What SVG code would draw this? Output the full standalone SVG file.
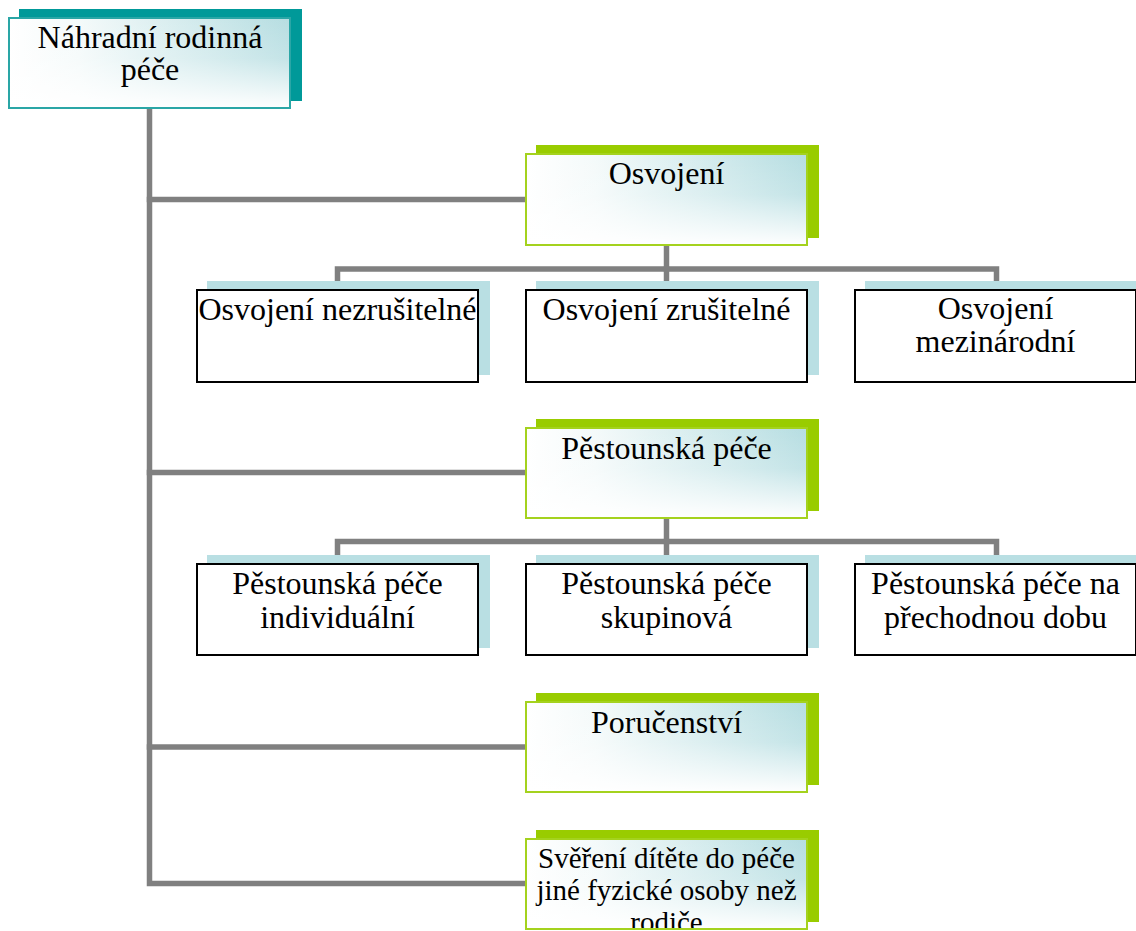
<svg xmlns="http://www.w3.org/2000/svg" width="1136" height="931" viewBox="0 0 1136 931">
<defs>
<linearGradient id="gh" x1="0" y1="0" x2="1" y2="0">
<stop offset="0" stop-color="#ffffff"/>
<stop offset="0.25" stop-color="#f4fafa"/>
<stop offset="1" stop-color="#b5dde1"/>
</linearGradient>
<linearGradient id="gv" x1="0" y1="0" x2="0" y2="1">
<stop offset="0" stop-color="#ffffff" stop-opacity="0"/>
<stop offset="0.45" stop-color="#ffffff" stop-opacity="0.2"/>
<stop offset="1" stop-color="#ffffff" stop-opacity="1"/>
</linearGradient>
<clipPath id="clipLast"><rect x="526" y="839" width="281" height="90"/></clipPath>
</defs>
<style>
.conn{fill:none;stroke:#808080;stroke-width:5.5;stroke-linecap:square;stroke-linejoin:miter}
.shG{fill:#99cc00}
.shT{fill:#009999}
.shB{fill:#b9dfe3}
.grad{fill:url(#gh)}
.fade{fill:url(#gv)}
.bdG{fill:none;stroke:#a4d21e;stroke-width:2}
.bdT{fill:none;stroke:#2aa6a6;stroke-width:2}
.child{fill:#ffffff;stroke:#000000;stroke-width:2}
.t{font-family:"Liberation Serif","Times New Roman",serif;font-size:32px;fill:#000000;text-anchor:middle}
.ts{font-family:"Liberation Serif","Times New Roman",serif;font-size:29px;fill:#000000;text-anchor:middle}
</style>
<rect width="1136" height="931" fill="#ffffff"/>
<g id="connectors">
<path class="conn" d="M149.5,109 V883.5 H525"/>
<path class="conn" d="M149.5,199.5 H525"/>
<path class="conn" d="M149.5,472.5 H525"/>
<path class="conn" d="M149.5,747 H525"/>
<path class="conn" d="M666.5,246 V269"/>
<path class="conn" d="M337.5,283 V269 H996.5 V283"/>
<path class="conn" d="M666.5,269 V283"/>
<path class="conn" d="M666.5,519 V541.5"/>
<path class="conn" d="M337.5,556 V541.5 H996.5 V556"/>
<path class="conn" d="M666.5,541.5 V556"/>
</g>
<g id="node-root">
<rect class="shT" x="19" y="9" width="283" height="92"/>
<rect class="grad" x="8" y="17" width="283" height="92"/>
<rect class="fade" x="8" y="17" width="283" height="92"/>
<rect class="bdT" x="9" y="18" width="281" height="90"/>
<text class="t" x="150" y="48">Náhradní rodinná</text>
<text class="t" x="150" y="80">péče</text>
</g>
<g id="node-osvojeni">
<rect class="shG" x="536" y="145" width="283" height="93"/>
<rect class="grad" x="525" y="153" width="283" height="93"/>
<rect class="fade" x="525" y="153" width="283" height="93"/>
<rect class="bdG" x="526" y="154" width="281" height="91"/>
<text class="t" x="666.5" y="184">Osvojení</text>
</g>
<g id="node-osvojeni-nezrusitelne">
<rect class="shB" x="207" y="281" width="283" height="94"/>
<rect class="child" x="197" y="290" width="281" height="92"/>
<text class="t" x="337.5" y="320">Osvojení nezrušitelné</text>
</g>
<g id="node-osvojeni-zrusitelne">
<rect class="shB" x="536" y="281" width="283" height="94"/>
<rect class="child" x="526" y="290" width="281" height="92"/>
<text class="t" x="666.5" y="320">Osvojení zrušitelné</text>
</g>
<g id="node-osvojeni-mezinarodni">
<rect class="shB" x="865" y="281" width="283" height="94"/>
<rect class="child" x="855" y="290" width="281" height="92"/>
<text class="t" x="995.5" y="319">Osvojení</text>
<text class="t" x="995.5" y="352">mezinárodní</text>
</g>
<g id="node-pestounska">
<rect class="shG" x="536" y="419" width="283" height="92"/>
<rect class="grad" x="525" y="427" width="283" height="92"/>
<rect class="fade" x="525" y="427" width="283" height="92"/>
<rect class="bdG" x="526" y="428" width="281" height="90"/>
<text class="t" x="666.5" y="459">Pěstounská péče</text>
</g>
<g id="node-pestounska-individualni">
<rect class="shB" x="207" y="555" width="283" height="93"/>
<rect class="child" x="197" y="564" width="281" height="91"/>
<text class="t" x="337.5" y="594">Pěstounská péče</text>
<text class="t" x="337.5" y="628">individuální</text>
</g>
<g id="node-pestounska-skupinova">
<rect class="shB" x="536" y="555" width="283" height="93"/>
<rect class="child" x="526" y="564" width="281" height="91"/>
<text class="t" x="666.5" y="594">Pěstounská péče</text>
<text class="t" x="666.5" y="628">skupinová</text>
</g>
<g id="node-pestounska-prechodna">
<rect class="shB" x="865" y="555" width="283" height="93"/>
<rect class="child" x="855" y="564" width="281" height="91"/>
<text class="t" x="995.5" y="594">Pěstounská péče na</text>
<text class="t" x="995.5" y="628">přechodnou dobu</text>
</g>
<g id="node-porucenstvi">
<rect class="shG" x="536" y="693" width="283" height="92"/>
<rect class="grad" x="525" y="701" width="283" height="92"/>
<rect class="fade" x="525" y="701" width="283" height="92"/>
<rect class="bdG" x="526" y="702" width="281" height="90"/>
<text class="t" x="666.5" y="733">Poručenství</text>
</g>
<g id="node-sverení">
<rect class="shG" x="536" y="830" width="283" height="92"/>
<rect class="grad" x="525" y="838" width="283" height="92"/>
<rect class="fade" x="525" y="838" width="283" height="92"/>
<g clip-path="url(#clipLast)">
<text class="ts" x="666.5" y="868">Svěření dítěte do péče</text>
<text class="ts" x="666.5" y="900">jiné fyzické osoby než</text>
<text class="ts" x="666.5" y="932">rodiče</text>
</g>
<rect class="bdG" x="526" y="839" width="281" height="90"/>
</g>
</svg>
